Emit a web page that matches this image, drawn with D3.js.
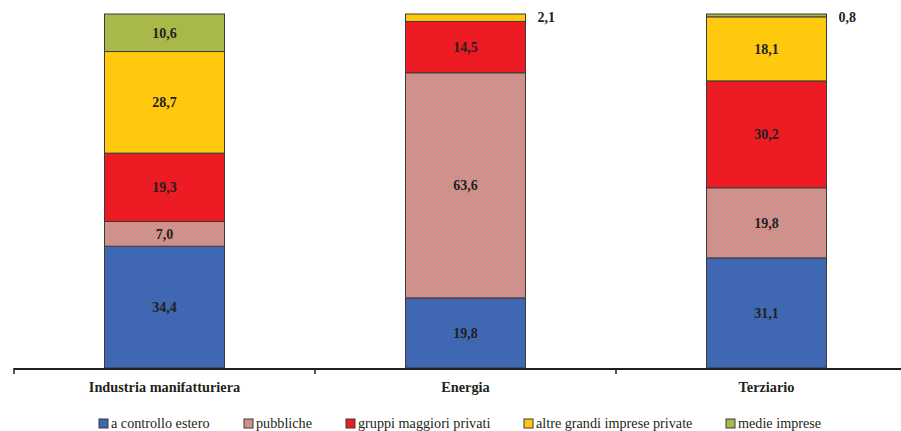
<!DOCTYPE html>
<html>
<head>
<meta charset="utf-8">
<script src="https://cdn.jsdelivr.net/npm/d3@7/dist/d3.min.js"></script>
<style>
  html, body { margin: 0; padding: 0; background: #fff; }
  svg { display: block; }
  svg text { font-family: "Liberation Serif", "Times New Roman", Times, "DejaVu Serif", serif; fill: #231f20; }
</style>
</head>
<body>
<svg id="chart" width="901" height="431"></svg>
<script>
// Sectors and ownership groups (percent shares, each sector sums to 100)
const categories = ["Industria manifatturiera", "Energia", "Terziario"];
const seriesNames = ["a controllo estero", "pubbliche", "gruppi maggiori privati", "altre grandi imprese private", "medie imprese"];
const controlloEstero = [34.4, 19.8, 31.1];
const pubbliche = [7.0, 63.6, 19.8];
const gruppiMaggiori = [19.3, 14.5, 30.2];
const altreGrandi = [28.7, 2.1, 18.1];
const medieImprese = [10.6, 0, 0.8];

const seriesValues = [controlloEstero, pubbliche, gruppiMaggiori, altreGrandi, medieImprese];
const fills = ["#3f67b2", "url(#hatch)", "#ed1c24", "#ffc90e", "#a8b94a"];
const ink = "#231f20";

const svg = d3.select("#chart");

// Diagonal hatch for the "pubbliche" segments
const defs = svg.append("defs");
const pat = defs.append("pattern")
  .attr("id", "hatch").attr("patternUnits", "userSpaceOnUse")
  .attr("width", 4).attr("height", 4);
pat.append("rect").attr("width", 4).attr("height", 4).attr("fill", "#ef8a80");
pat.append("path").attr("d", "M-1,1 l2,-2 M0,4 l4,-4 M3,5 l2,-2")
  .attr("stroke", "#9c9c9f").attr("stroke-width", 1.1);

const axisY = 368, topY = 14, axisLeft = 14, axisRight = 917;

const x = d3.scaleBand().domain(categories).range([axisLeft, axisRight]).paddingInner(0).paddingOuter(0);
const y = d3.scaleLinear().domain([0, 100]).range([axisY, topY]);
const barW = 120;

// Build stacked data
const rows = categories.map((c, i) => {
  const o = { cat: c };
  seriesNames.forEach((s, k) => o[s] = seriesValues[k][i]);
  return o;
});
const stacked = d3.stack().keys(seriesNames)(rows);

const g = svg.append("g");
stacked.forEach((layer, k) => {
  layer.forEach((d, i) => {
    const v = d[1] - d[0];
    if (v <= 0) return;
    const cx = x(categories[i]) + x.bandwidth() / 2;
    g.append("rect")
      .attr("x", cx - barW / 2)
      .attr("y", y(d[1]))
      .attr("width", barW)
      .attr("height", y(d[0]) - y(d[1]))
      .attr("fill", fills[k])
      .attr("stroke", "#3a3a3a")
      .attr("stroke-width", 1);
    const label = d3.format(".1f")(v).replace(".", ",");
    const small = (y(d[0]) - y(d[1])) < 14;
    g.append("text")
      .attr("x", small ? cx + barW / 2 + 12 : cx)
      .attr("y", small ? y(d[1]) + 3 : (y(d[0]) + y(d[1])) / 2)
      .attr("dy", "0.35em")
      .attr("text-anchor", small ? "start" : "middle")
      .style("font-size", "14px")
      .style("font-weight", "bold")
      .text(label);
  });
});

// Category axis with boundary ticks
const axis = svg.append("g");
axis.append("line")
  .attr("x1", axisLeft).attr("x2", axisRight)
  .attr("y1", axisY + 1).attr("y2", axisY + 1)
  .attr("stroke", ink).attr("stroke-width", 2);
categories.forEach((c, i) => {
  axis.append("line")
    .attr("x1", x(c)).attr("x2", x(c))
    .attr("y1", axisY).attr("y2", axisY + 6)
    .attr("stroke", ink).attr("stroke-width", 1.5);
  axis.append("text")
    .attr("x", x(c) + x.bandwidth() / 2)
    .attr("y", 392)
    .attr("text-anchor", "middle")
    .style("font-size", "14.3px")
    .style("font-weight", "bold")
    .text(c);
});

// Legend
const legendX = [99, 244, 346, 524, 726];
const legend = svg.append("g");
seriesNames.forEach((s, k) => {
  legend.append("rect")
    .attr("x", legendX[k]).attr("y", 419)
    .attr("width", 9).attr("height", 9)
    .attr("fill", fills[k]).attr("stroke", "#3a3a3a").attr("stroke-width", 1);
  legend.append("text")
    .attr("x", legendX[k] + 12).attr("y", 428)
    .style("font-size", "14.2px")
    .text(s);
});
</script>
</body>
</html>
